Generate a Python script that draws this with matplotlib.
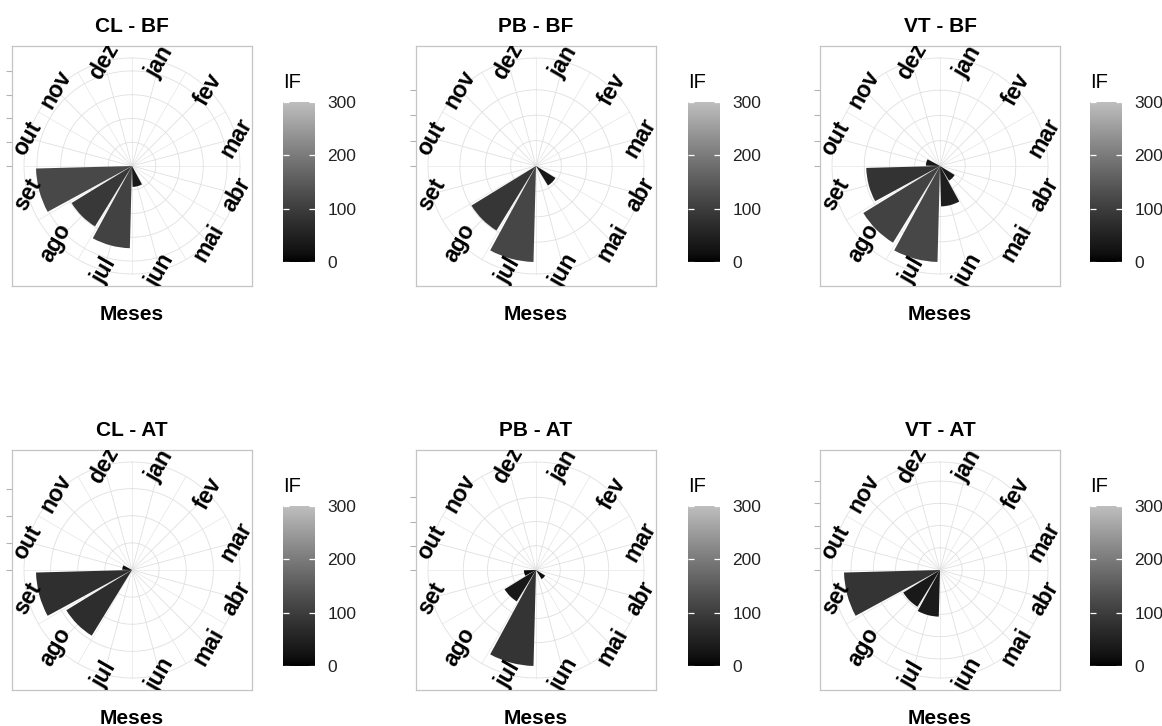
import numpy as np
import matplotlib
matplotlib.use('Agg')
import matplotlib.pyplot as plt
from matplotlib.colors import LinearSegmentedColormap, Normalize
from matplotlib.cm import ScalarMappable

plt.rcParams['font.family'] = ['Liberation Sans', 'DejaVu Sans']

meses = ['jan', 'fev', 'mar', 'abr', 'mai', 'jun',
         'jul', 'ago', 'set', 'out', 'nov', 'dez']
titulos = ['CL - BF', 'PB - BF', 'VT - BF', 'CL - AT', 'PB - AT', 'VT - AT']

# comprimento das barras (eixo radial)
cl_bf = [0, 0, 0, 0, 0, 44, 173, 149, 202, 0, 0, 0]
pb_bf = [0, 0, 0, 0, 45, 0, 189, 149, 0, 0, 0, 0]
vt_bf = [0, 0, 0, 0, 34, 80, 190, 178, 146, 28, 0, 0]
cl_at = [0, 0, 0, 0, 0, 0, 0, 142, 177, 18, 0, 0]
pb_at = [0, 0, 0, 0, 22, 0, 198, 76, 25, 0, 0, 0]
vt_at = [0, 0, 0, 0, 0, 0, 105, 97, 216, 0, 0, 0]

# preenchimento (IF)
cl_bf_if = [0, 0, 0, 0, 0, 33, 110, 92, 120, 0, 0, 0]
pb_bf_if = [0, 0, 0, 0, 30, 0, 115, 88, 0, 0, 0, 0]
vt_bf_if = [0, 0, 0, 0, 35, 45, 118, 108, 83, 30, 0, 0]
cl_at_if = [0, 0, 0, 0, 0, 0, 0, 72, 77, 15, 0, 0]
pb_at_if = [0, 0, 0, 0, 15, 0, 85, 32, 12, 0, 0, 0]
vt_at_if = [0, 0, 0, 0, 0, 0, 38, 35, 85, 0, 0, 0]

if_ticks = [0, 100, 200, 300]


# gradiente preto -> gray (#BEBEBE) interpolado em Lab, como no ggplot
def gray_to_L(v):
    s = v / 255
    lin = ((s + 0.055) / 1.055) ** 2.4
    return 116 * lin ** (1 / 3) - 16


def L_to_gray(L):
    lin = np.where(L > 8, ((L + 16) / 116) ** 3, L / 903.3)
    return np.where(lin > 0.0031308, 1.055 * lin ** (1 / 2.4) - 0.055, 12.92 * lin)


g = L_to_gray(np.linspace(0, gray_to_L(190), 256))
cmap = LinearSegmentedColormap.from_list('cinza', np.column_stack([g, g, g]))
norm = Normalize(0, 300)

W, H = 1162, 726


def caixa(x0, y0, x1, y1):
    return [x0 / W, 1 - y1 / H, (x1 - x0) / W, (y1 - y0) / H]


fig = plt.figure(figsize=(W / 100, H / 100), dpi=100)

paineis = [(cl_bf, cl_bf_if), (pb_bf, pb_bf_if), (vt_bf, vt_bf_if),
           (cl_at, cl_at_if), (pb_at, pb_at_if), (vt_at, vt_at_if)]
esquerdas = [12, 416, 820]
topos = [46, 450]
barras_x = [283, 688, 1090]
barras_y = [102, 506]

n = len(meses)
theta = (np.arange(n) + 0.5) * 2 * np.pi / n
theta_fino = np.linspace(0, 2 * np.pi, 300)
grade = '#e0e0e0'

for k, (titulo, (vals, ifs)) in enumerate(zip(titulos, paineis)):
    lin, col = divmod(k, 3)
    x0, y0 = esquerdas[col], topos[lin]
    vals = np.array(vals, float)
    rmax = vals.max()
    R = rmax * 1.25
    quebras = np.arange(0, rmax + 1e-9, 50)

    # moldura quadrada com os ticks do eixo y
    mold = fig.add_axes(caixa(x0, y0, x0 + 240, y0 + 240))
    mold.set_xlim(-R, R)
    mold.set_ylim(-R, R)
    mold.set_xticks([])
    mold.set_yticks(quebras)
    mold.set_yticklabels([])
    mold.tick_params(axis='y', length=4, width=0.8, color='#b3b3b3')
    for s in mold.spines.values():
        s.set_color('#c4c4c4')
        s.set_linewidth(0.9)
    mold.text(0.5, 1 + 14.5 / 240, titulo, transform=mold.transAxes,
              ha='center', va='baseline', fontsize=15, fontweight='bold')
    mold.text(0.5, -34 / 240, 'Meses', transform=mold.transAxes,
              ha='center', va='baseline', fontsize=15, fontweight='bold')

    # coordenadas polares
    ax = fig.add_axes(caixa(x0, y0, x0 + 240, y0 + 240), projection='polar')
    ax.set_theta_zero_location('N')
    ax.set_theta_direction(-1)
    for q in list(quebras[1:]) + [rmax * 1.125]:
        ax.plot(theta_fino, np.full_like(theta_fino, q), color=grade, lw=0.6, zorder=1)
    for j in range(2 * n):
        a = j * np.pi / n
        ax.plot([a, a], [0, rmax * 1.125], color=grade,
                lw=0.6 if j % 2 else 0.4, zorder=1)
    ax.bar(theta, vals, width=0.9 * 2 * np.pi / n, color=cmap(norm(ifs)),
           linewidth=0, zorder=2)
    for t, m in zip(theta, meses):
        ax.text(t, rmax * 1.125, m, rotation=60, ha='center', va='center',
                fontsize=16.5, fontweight='bold', clip_on=True,
                clip_path=mold.patch, zorder=3)
    ax.set_ylim(0, R)
    ax.set_axis_off()

    # legenda de cor
    bx, by = barras_x[col], barras_y[lin]
    cax = fig.add_axes(caixa(bx, by, bx + 32, by + 160))
    cb = fig.colorbar(ScalarMappable(norm=norm, cmap=cmap), cax=cax, ticks=if_ticks)
    cb.outline.set_visible(False)
    cax.tick_params(length=0, pad=9, labelsize=12.5, labelcolor='#222222')
    trans = cax.get_yaxis_transform()
    cax.hlines(if_ticks, 0, 0.2, transform=trans, colors='white', lw=0.9)
    cax.hlines(if_ticks, 0.8, 1, transform=trans, colors='white', lw=0.9)
    cax.text(0, 1 + 14 / 160, 'IF', transform=cax.transAxes,
             ha='left', va='baseline', fontsize=14.5)

fig.savefig('out.png', dpi=100, facecolor='white')
